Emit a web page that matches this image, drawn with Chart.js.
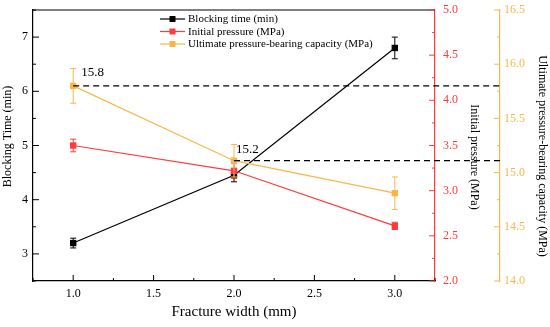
<!DOCTYPE html>
<html>
<head>
<meta charset="utf-8">
<script src="https://cdn.jsdelivr.net/npm/chart.js@4/dist/chart.umd.min.js"></script>
<style>
  html, body { margin: 0; padding: 0; background: #fff; }
  #wrap { width: 550px; height: 327px; }
</style>
</head>
<body>
<div id="wrap"><canvas id="c" width="550" height="327"></canvas></div>
<script>
// ---- data ----
const fractureWidth = [1.0, 2.0, 3.0];
const blockingTime = [3.2, 4.45, 6.8];
const blockingTimeErr = [0.09, 0.12, 0.2];
const initialPressure = [3.5, 3.22, 2.61];
const initialPressureErr = [0.07, 0.08, 0.04];
const ultimateCapacity = [15.8, 15.11, 14.81];
const ultimateCapacityErr = [0.16, 0.15, 0.15];
const seriesNames = ['Blocking time (min)', 'Initial pressure (MPa)', 'Ultimate pressure-bearing capacity (MPa)'];
const refPointIdx = [0, 1];
const refLabels = ['15.8', '15.2'];
const xTicks = [1.0, 1.5, 2.0, 2.5, 3.0];
const yTicks = [3, 4, 5, 6, 7];
const y1Ticks = [2.0, 2.5, 3.0, 3.5, 4.0, 4.5, 5.0];
const y2Ticks = [14.0, 14.5, 15.0, 15.5, 16.0, 16.5];

const BLACK = '#000000';
const RED = '#ff3b3b';
const YELLOW = '#f7b84b';
const FONT = "'Liberation Serif', 'Times New Roman', serif";

function pts(xs, ys) { return xs.map((x, i) => ({ x: x, y: ys[i] })); }

const errs = [blockingTimeErr, initialPressureErr, ultimateCapacityErr];

const errorBarPlugin = {
  id: 'errorBars',
  beforeDatasetDraw(chart, args) {
    const meta = args.meta;
    const ds = chart.data.datasets[args.index];
    const e = errs[args.index];
    const yScale = chart.scales[meta.yAxisID];
    const xScale = chart.scales.x;
    const ctx = chart.ctx;
    ctx.save();
    ctx.strokeStyle = ds.borderColor;
    ctx.lineWidth = 1;
    ds.data.forEach((p, i) => {
      const px = xScale.getPixelForValue(p.x);
      const yt = yScale.getPixelForValue(p.y + e[i]);
      const yb = yScale.getPixelForValue(p.y - e[i]);
      ctx.beginPath();
      ctx.moveTo(px, yt); ctx.lineTo(px, yb);
      ctx.moveTo(px - 3, yt); ctx.lineTo(px + 3, yt);
      ctx.moveTo(px - 3, yb); ctx.lineTo(px + 3, yb);
      ctx.stroke();
    });
    ctx.restore();
  }
};

function drawTicks(ctx, scale, ticks, minors, side, color) {
  ctx.save();
  ctx.strokeStyle = color;
  ctx.lineWidth = 1;
  ctx.beginPath();
  const draw = (v, len) => {
    const p = scale.getPixelForValue(v);
    if (side === 'bottom') {
      ctx.moveTo(p, scale.top); ctx.lineTo(p, scale.top - len);
    } else if (side === 'left') {
      ctx.moveTo(scale.right, p); ctx.lineTo(scale.right + len, p);
    } else {
      ctx.moveTo(scale.left, p); ctx.lineTo(scale.left - len, p);
    }
  };
  ticks.forEach(v => draw(v, 6));
  minors.forEach(v => draw(v, 3));
  ctx.stroke();
  ctx.restore();
}

function minorsOf(ticks, min, max) {
  const step = ticks[1] - ticks[0];
  const out = [];
  for (let v = ticks[0] - step / 2; v <= max + 1e-9; v += step) {
    if (v >= min - 1e-9) out.push(v);
  }
  return out;
}

const decorPlugin = {
  id: 'decor',
  afterDatasetsDraw(chart) {
    const ctx = chart.ctx;
    const { x, y2 } = chart.scales;

    // dashed reference lines + labels
    ctx.save();
    ctx.strokeStyle = '#000';
    ctx.lineWidth = 1.3;
    ctx.setLineDash([6, 4]);
    refPointIdx.forEach((idx) => {
      const px = x.getPixelForValue(fractureWidth[idx]);
      const py = y2.getPixelForValue(ultimateCapacity[idx]);
      ctx.beginPath();
      ctx.moveTo(px, py);
      ctx.lineTo(y2.left, py);
      ctx.stroke();
    });
    ctx.setLineDash([]);
    ctx.fillStyle = '#000';
    ctx.font = '13px ' + FONT;
    ctx.textBaseline = 'middle';
    ctx.textAlign = 'left';
    const dxs = [8, 2];
    const dys = [-13, -11];
    refPointIdx.forEach((idx, k) => {
      const px = x.getPixelForValue(fractureWidth[idx]);
      const py = y2.getPixelForValue(ultimateCapacity[idx]);
      ctx.fillText(refLabels[k], px + dxs[k], py + dys[k]);
    });
    ctx.restore();
  },
  afterDraw(chart) {
    const ctx = chart.ctx;
    const { x, y, y1, y2 } = chart.scales;
    const area = chart.chartArea;

    // top frame line
    ctx.save();
    ctx.strokeStyle = '#000';
    ctx.lineWidth = 1.2;
    ctx.beginPath();
    ctx.moveTo(area.left, area.top);
    ctx.lineTo(area.right, area.top);
    ctx.stroke();
    ctx.restore();

    // tick marks (inward)
    drawTicks(ctx, x, xTicks, minorsOf(xTicks, 0.75, 3.25), 'bottom', '#000');
    drawTicks(ctx, y, yTicks, minorsOf(yTicks, 2.5, 7.5), 'left', '#000');
    drawTicks(ctx, y1, y1Ticks, minorsOf(y1Ticks, 2.0, 5.0), 'right', RED);
    drawTicks(ctx, y2, y2Ticks, minorsOf(y2Ticks, 14.0, 16.5), 'right', YELLOW);

    // y-axis titles
    ctx.save();
    ctx.fillStyle = '#000';
    ctx.font = '12px ' + FONT;
    ctx.textAlign = 'center';
    ctx.textBaseline = 'middle';
    ctx.save();
    ctx.translate(y.left + 8, 136.5);
    ctx.rotate(-Math.PI / 2);
    ctx.fillText('Blocking Time (min)', 0, 0);
    ctx.restore();
    ctx.save();
    ctx.translate(y1.right - 26, 157);
    ctx.rotate(Math.PI / 2);
    ctx.fillText('Initial pressure (MPa)', 0, 0);
    ctx.restore();
    ctx.save();
    ctx.translate(y2.right - 8, 156);
    ctx.rotate(Math.PI / 2);
    ctx.fillText('Ultimate pressure-bearing capacity (MPa)', 0, 0);
    ctx.restore();
    ctx.restore();

    // legend
    ctx.save();
    ctx.font = '11px ' + FONT;
    ctx.textBaseline = 'middle';
    ctx.textAlign = 'left';
    chart.data.datasets.forEach((ds, i) => {
      const ly = 19 + i * 12.5;
      ctx.strokeStyle = ds.borderColor;
      ctx.lineWidth = 1.2;
      ctx.beginPath();
      ctx.moveTo(160, ly); ctx.lineTo(185, ly);
      ctx.stroke();
      ctx.fillStyle = ds.borderColor;
      ctx.fillRect(169.5, ly - 3, 6, 6);
      ctx.fillStyle = '#000';
      ctx.fillText(ds.label, 188, ly + 0.5);
    });
    ctx.restore();
  }
};

const setTicks = arr => scale => { scale.ticks = arr.map(v => ({ value: v })); };
const fitV = w => s => { s.width = w; s.paddingTop = 0; s.paddingBottom = 0; };

new Chart(document.getElementById('c'), {
  type: 'line',
  data: {
    datasets: [
      { label: seriesNames[0], data: pts(fractureWidth, blockingTime), yAxisID: 'y',
        borderColor: BLACK, backgroundColor: BLACK, order: 3 },
      { label: seriesNames[1], data: pts(fractureWidth, initialPressure), yAxisID: 'y1',
        borderColor: RED, backgroundColor: RED, order: 2 },
      { label: seriesNames[2], data: pts(fractureWidth, ultimateCapacity), yAxisID: 'y2',
        borderColor: YELLOW, backgroundColor: YELLOW, order: 1 }
    ].map(d => Object.assign(d, {
      borderWidth: 1.2, pointStyle: 'rect', pointRadius: 4.5, pointHoverRadius: 4.5,
      pointBorderWidth: 0, tension: 0, fill: false
    }))
  },
  options: {
    responsive: false,
    animation: false,
    devicePixelRatio: 1,
    layout: { padding: { top: 10, left: 0, right: 0, bottom: 0 } },
    plugins: { legend: { display: false }, tooltip: { enabled: false } },
    scales: {
      x: {
        type: 'linear', position: 'bottom', min: 0.75, max: 3.25,
        afterBuildTicks: setTicks(xTicks),
        afterFit: s => { s.height = 46; s.paddingLeft = 0; s.paddingRight = 0; },
        grid: { display: false, drawTicks: false },
        border: { display: true, color: '#000', width: 1.2 },
        ticks: { color: '#000', padding: 6, font: { family: FONT, size: 12 },
          maxRotation: 0, callback: v => Number(v).toFixed(1) },
        title: { display: true, text: 'Fracture width (mm)', color: '#000',
          font: { family: FONT, size: 15 }, padding: { top: 0, bottom: 6 } }
      },
      y: {
        type: 'linear', position: 'left', min: 2.5, max: 7.5,
        afterBuildTicks: setTicks(yTicks),
        afterFit: fitV(33),
        grid: { display: false, drawTicks: false },
        border: { display: true, color: '#000', width: 1.2 },
        ticks: { color: '#000', padding: 5, font: { family: FONT, size: 12 },
          callback: v => String(v) }
      },
      y1: {
        type: 'linear', position: 'right', min: 2.0, max: 5.0,
        afterBuildTicks: setTicks(y1Ticks),
        afterFit: fitV(65),
        grid: { display: false, drawTicks: false },
        border: { display: true, color: RED, width: 1.2 },
        ticks: { color: RED, padding: 8, font: { family: FONT, size: 12 },
          callback: v => Number(v).toFixed(1) }
      },
      y2: {
        type: 'linear', position: 'right', min: 14.0, max: 16.5,
        afterBuildTicks: setTicks(y2Ticks),
        afterFit: fitV(50),
        grid: { display: false, drawTicks: false },
        border: { display: true, color: YELLOW, width: 1.2 },
        ticks: { color: YELLOW, padding: 4, font: { family: FONT, size: 12 },
          callback: v => Number(v).toFixed(1) }
      }
    }
  },
  plugins: [errorBarPlugin, decorPlugin]
});
</script>
</body>
</html>
